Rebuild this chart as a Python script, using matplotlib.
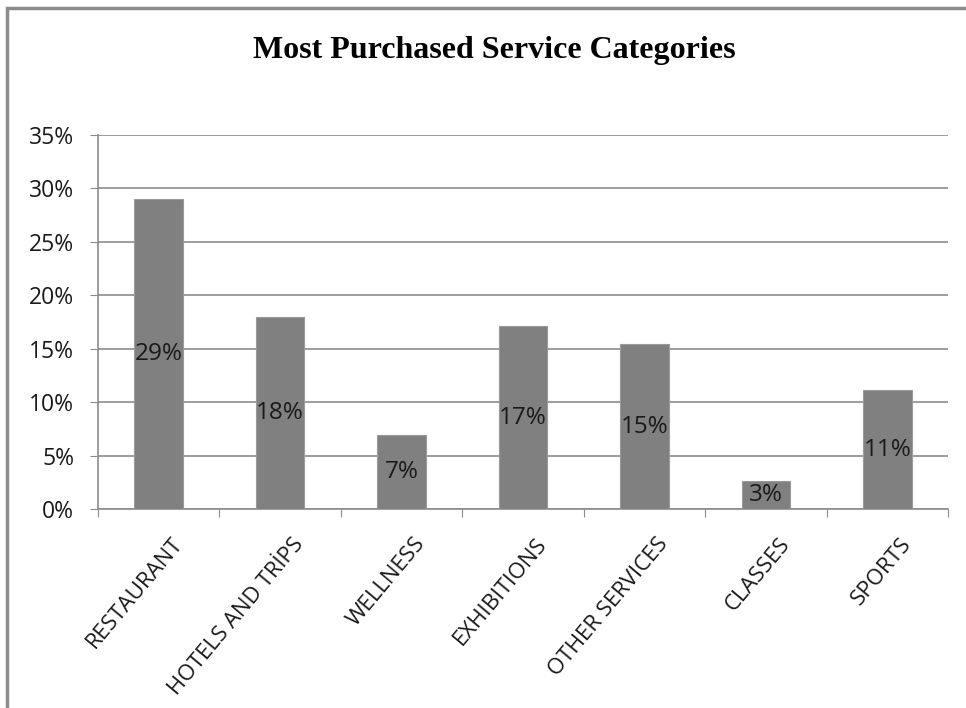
import matplotlib.pyplot as plt
from matplotlib.patches import Rectangle
from matplotlib.ticker import FuncFormatter, MultipleLocator

categories = ['RESTAURANT', 'HOTELS AND TRİPS', 'WELLNESS', 'EXHIBITIONS',
              'OTHER SERVICES', 'CLASSES', 'SPORTS']
shares = [29.0, 18.0, 6.9, 17.1, 15.4, 2.6, 11.1]
share_labels = ['29%', '18%', '7%', '17%', '15%', '3%', '11%']

plt.rcParams['font.family'] = ['Open Sans', 'DejaVu Sans']

fig = plt.figure(figsize=(9.66, 7.08), dpi=100)
ax = fig.add_axes([0.1014, 0.2811, 0.88, 0.5282])

# outer chart frame (only top/left visible in the cropped original)
fig.patches.append(Rectangle((0.007, -0.05), 1.1, 1.038, transform=fig.transFigure,
                             fill=False, edgecolor='#8c8c8c', linewidth=2.5))

x = range(len(categories))
bars = ax.bar(x, shares, width=0.4, color='#808080', edgecolor='#9a9a9a',
              linewidth=0.8, zorder=3)
for b, lab in zip(bars, share_labels):
    ax.text(b.get_x() + b.get_width() / 2, b.get_height() / 2, lab,
            ha='center', va='center', fontsize=17.5, color='#1a1a1a', zorder=4)

ax.set_xlim(-0.5, len(categories) - 0.5)
ax.set_ylim(0, 35)
ax.yaxis.set_major_locator(MultipleLocator(5))
ax.yaxis.set_major_formatter(FuncFormatter(lambda v, p: f'{v:.0f}%'))
ax.grid(axis='y', color='#8c8c8c', linewidth=1.2, zorder=0)

for s in ['top', 'right']:
    ax.spines[s].set_visible(False)
ax.spines['left'].set_color('#8c8c8c')
ax.spines['bottom'].set_color('#8c8c8c')
ax.spines['left'].set_linewidth(1.2)
ax.spines['bottom'].set_linewidth(1.2)

ax.tick_params(axis='y', length=6, color='#8c8c8c', labelsize=16.5, pad=11,
               labelcolor='#1a1a1a')
ax.set_xticks([i + 0.5 for i in range(-1, len(categories))])
ax.set_xticklabels([])
ax.tick_params(axis='x', length=6, color='#8c8c8c')
for i, c in enumerate(categories):
    ax.text(i + 0.1, -2.3, c, rotation=50, rotation_mode='anchor',
            ha='right', va='top', fontsize=16, color='#1a1a1a')

fig.text(0.512, 0.918, 'Most Purchased Service Categories', ha='center', va='baseline',
         fontsize=23, fontweight='bold', family='Liberation Serif')

fig.savefig('out.png', dpi=100)
